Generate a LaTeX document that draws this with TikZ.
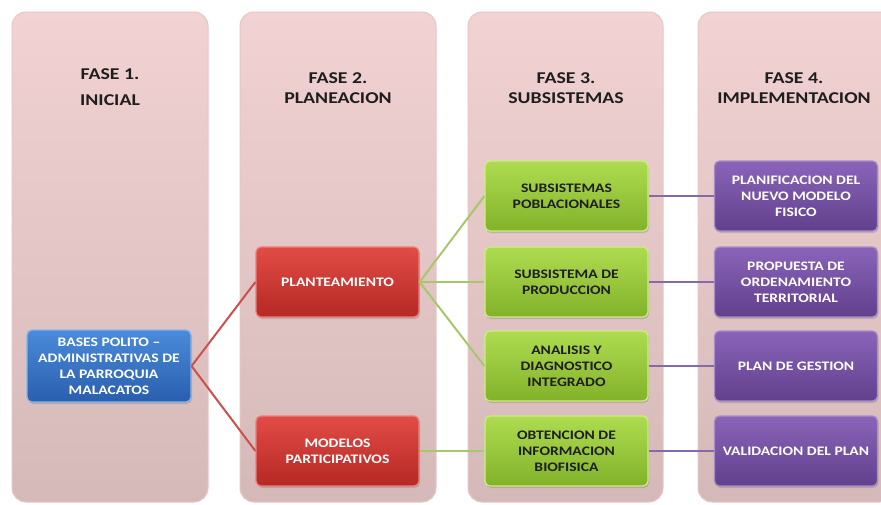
\documentclass[tikz,border=0pt]{standalone}
\usepackage{fontspec}
\setmainfont[FakeStretch=1.2]{Carlito}
\usetikzlibrary{shadows}
\definecolor{colTop}{HTML}{F2D2D2}
\definecolor{colBot}{HTML}{D5B9B9}
\definecolor{colEdge}{HTML}{E6C6C6}
\definecolor{blueT}{HTML}{4A8BDA}
\definecolor{blueB}{HTML}{2A5EAE}
\definecolor{blueE}{HTML}{86B6EC}
\definecolor{redT}{HTML}{E24C46}
\definecolor{redB}{HTML}{B52824}
\definecolor{redE}{HTML}{EE7E79}
\definecolor{greenT}{HTML}{AEDC50}
\definecolor{greenB}{HTML}{82B22A}
\definecolor{greenE}{HTML}{CDEE80}
\definecolor{purT}{HTML}{8A64B9}
\definecolor{purB}{HTML}{61408C}
\definecolor{purE}{HTML}{A78CCC}
\definecolor{redLine}{HTML}{C9524E}
\definecolor{greenLine}{HTML}{A6C86A}
\definecolor{purLine}{HTML}{8669AA}
\definecolor{titleText}{HTML}{1E1E1E}
\tikzset{
  phase/.style={rounded corners=14pt, draw=colEdge, line width=1pt, top color=colTop, bottom color=colBot},
  title/.style={align=center, text=titleText, font=\fontsize{16.5}{20.5}\selectfont\bfseries},
  box/.style={rounded corners=5pt, minimum width=163pt, minimum height=70pt, align=center,
     line width=1.2pt, font=\fontsize{13}{16}\selectfont\bfseries, inner sep=1pt,
     drop shadow={opacity=0.35, shadow xshift=1pt, shadow yshift=-2pt}},
  bluebox/.style={box, draw=blueE, top color=blueT, bottom color=blueB, text=white},
  redbox/.style={box, draw=redE, top color=redT, bottom color=redB, text=white},
  greenbox/.style={box, draw=greenE, top color=greenT, bottom color=greenB, text=titleText},
  purbox/.style={box, draw=purE, top color=purT, bottom color=purB, text=white},
  redcon/.style={draw=redLine, line width=2pt},
  greencon/.style={draw=greenLine, line width=2pt},
  purcon/.style={draw=purLine, line width=2.5pt}
}
\begin{document}
\begin{tikzpicture}[x=1pt,y=-1pt]
\useasboundingbox (0,0) rectangle (881,504);
% phase columns
\path[phase] (12,12) rectangle (208,502);
\path[phase] (240,12) rectangle (436,502);
\path[phase] (468,12) rectangle (663,502);
\path[phase] (698,12) rectangle (894,502);
% titles
\node[title] (t1) at (110,87) {FASE 1.\\[6pt]INICIAL};
\node[title] (t2) at (338,88) {FASE 2.\\PLANEACION};
\node[title] (t3) at (566,88) {FASE 3.\\SUBSISTEMAS};
\node[title] (t4) at (794,88) {FASE 4.\\IMPLEMENTACION};
% boxes
\node[bluebox, minimum width=164pt, minimum height=72pt] (b1) at (109,366) {BASES POLITO --\\ADMINISTRATIVAS DE\\LA PARROQUIA\\MALACATOS};
\node[redbox] (r1) at (337.5,282) {PLANTEAMIENTO};
\node[redbox] (r2) at (337.5,451) {MODELOS\\PARTICIPATIVOS};
\node[greenbox] (g1) at (566.5,196) {SUBSISTEMAS\\POBLACIONALES};
\node[greenbox] (g2) at (566.5,282) {SUBSISTEMA DE\\PRODUCCION};
\node[greenbox] (g3) at (566.5,366) {ANALISIS Y\\DIAGNOSTICO\\INTEGRADO};
\node[greenbox] (g4) at (566.5,451) {OBTENCION DE\\INFORMACION\\BIOFISICA};
\node[purbox] (p1) at (796,196) {PLANIFICACION DEL\\NUEVO MODELO\\FISICO};
\node[purbox] (p2) at (796,282) {PROPUESTA DE\\ORDENAMIENTO\\TERRITORIAL};
\node[purbox] (p3) at (796,366) {PLAN DE GESTION};
\node[purbox] (p4) at (796,451) {VALIDACION DEL PLAN};
% connectors
\draw[redcon] (b1.east) -- (r1.west);
\draw[redcon] (b1.east) -- (r2.west);
\draw[greencon] (r1.east) -- (g1.west);
\draw[greencon] (r1.east) -- (g2.west);
\draw[greencon] (r1.east) -- (g3.west);
\draw[greencon] (r2.east) -- (g4.west);
\draw[purcon] (g1.east) -- (p1.west);
\draw[purcon] (g2.east) -- (p2.west);
\draw[purcon] (g3.east) -- (p3.west);
\draw[purcon] (g4.east) -- (p4.west);
\end{tikzpicture}
\end{document}
